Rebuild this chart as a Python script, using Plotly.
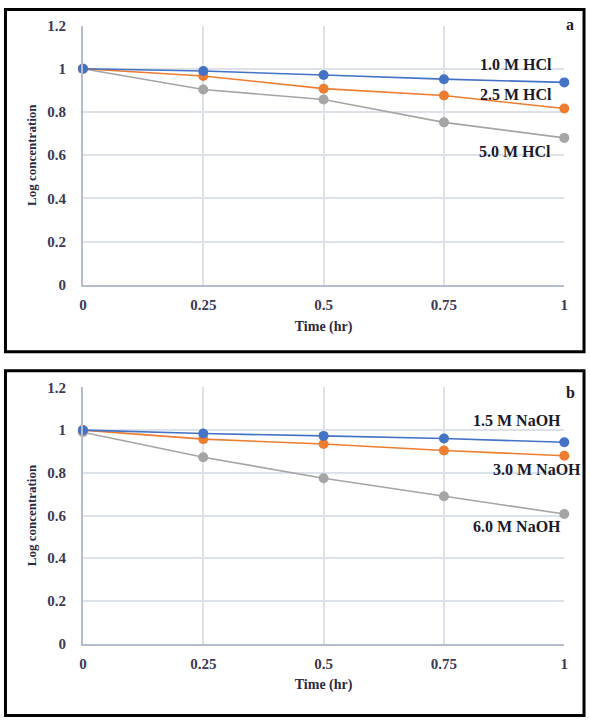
import plotly.graph_objects as go

time_hr = [0, 0.25, 0.5, 0.75, 1]

# Panel a (acid)
hcl_1_0 = [1.0, 0.99, 0.971, 0.952, 0.937]
hcl_2_5 = [1.0, 0.967, 0.908, 0.876, 0.816]
hcl_5_0 = [1.0, 0.904, 0.858, 0.752, 0.680]

# Panel b (base)
naoh_1_5 = [1.0, 0.984, 0.973, 0.961, 0.943]
naoh_3_0 = [1.0, 0.958, 0.935, 0.905, 0.880]
naoh_6_0 = [0.99, 0.873, 0.775, 0.690, 0.607]

x_ticks = [0, 0.25, 0.5, 0.75, 1]
x_tick_text = ["0", "0.25", "0.5", "0.75", "1"]
y_ticks = [0, 0.2, 0.4, 0.6, 0.8, 1.0, 1.2]
y_tick_text = ["0", "0.2", "0.4", "0.6", "0.8", "1", "1.2"]

BLUE = "#4472C4"
ORANGE = "#ED7D31"
GRAY = "#A5A5A5"
SERIF = "Liberation Serif"
TICKCOL = "#3a3a58"

W, H = 590, 725

fig = go.Figure()

def add(x, y, color, xa, ya):
    fig.add_trace(go.Scatter(x=x, y=y, mode="lines+markers",
                             line=dict(color=color, width=1.6),
                             marker=dict(color=color, size=10),
                             xaxis=xa, yaxis=ya, showlegend=False,
                             cliponaxis=False))

add(time_hr, hcl_5_0, GRAY, "x", "y")
add(time_hr, hcl_2_5, ORANGE, "x", "y")
add(time_hr, hcl_1_0, BLUE, "x", "y")
add(time_hr, naoh_6_0, GRAY, "x2", "y2")
add(time_hr, naoh_3_0, ORANGE, "x2", "y2")
add(time_hr, naoh_1_5, BLUE, "x2", "y2")

xdom = [80 / W, 568 / W]
ydom_a = [1 - 283 / H, 1 - 18 / H]
ydom_b = [1 - 650 / H, 1 - 388 / H]

def b(lst):
    return ["<b>" + t + "</b>" for t in lst]

def xaxis_cfg(anchor):
    return dict(domain=xdom, anchor=anchor, range=[0, 1], tickvals=x_ticks,
                ticktext=b(x_tick_text), showgrid=True, gridcolor="#dde1ea",
                gridwidth=1.5, zeroline=False, showline=True,
                linecolor="#b4bdce", linewidth=2, ticks="", ticklabelstandoff=5,
                tickfont=dict(family=SERIF, size=15, color=TICKCOL),
                title=dict(text="<b>Time (hr)</b>", standoff=9,
                           font=dict(family=SERIF, size=14, color="#2a2a40")))

def yaxis_cfg(anchor, dom):
    return dict(domain=dom, anchor=anchor, range=[0, 1.2], tickvals=y_ticks,
                ticktext=b(y_tick_text), showgrid=True, gridcolor="#dde1ea",
                gridwidth=1.5, zeroline=False, showline=True,
                linecolor="#b4bdce", linewidth=2, ticks="", ticklabelstandoff=12,
                tickfont=dict(family=SERIF, size=15, color=TICKCOL),
                title=dict(text="<b>Log concentration</b>", standoff=8,
                           font=dict(family=SERIF, size=13, color="#2a2a40")))

fig.update_layout(
    width=W, height=H,
    margin=dict(l=0, r=0, t=0, b=0),
    paper_bgcolor="white", plot_bgcolor="white",
    font=dict(family=SERIF),
    xaxis=xaxis_cfg("y"), yaxis=yaxis_cfg("x", ydom_a),
    xaxis2=xaxis_cfg("y2"), yaxis2=yaxis_cfg("x2", ydom_b),
)

def lab(text, xpx, ypx, anchor="right", size=16):
    fig.add_annotation(text="<b>" + text + "</b>", xref="paper", yref="paper",
                       x=xpx / W, y=1 - ypx / H, xanchor=anchor, yanchor="middle",
                       showarrow=False,
                       font=dict(family=SERIF, size=size, color="#1a1a2a"))

lab("a", 574, 17, anchor="center")
lab("1.0 M HCl", 558, 58)
lab("2.5 M HCl", 558, 88)
lab("5.0 M HCl", 557, 147)
lab("b", 574, 393, anchor="center")
lab("1.5 M NaOH", 567, 422)
lab("3.0 M NaOH", 587, 472)
lab("6.0 M NaOH", 567, 530)

# panel borders
for y0, y1 in [(1.5, 351.5), (371, 723.5)]:
    fig.add_shape(type="rect", xref="paper", yref="paper",
                  x0=1.5 / W, x1=588 / W, y0=1 - y1 / H, y1=1 - y0 / H,
                  line=dict(color="black", width=3), fillcolor="rgba(0,0,0,0)")

fig.write_html("out.html")
